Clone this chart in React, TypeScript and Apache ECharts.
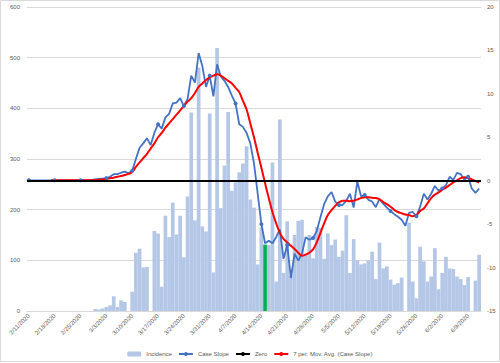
import React, { useEffect, useRef } from "react";
import * as echarts from "echarts";

const categories = [
  "2/11/2020","2/12/2020","2/13/2020","2/14/2020","2/15/2020","2/16/2020","2/17/2020","2/18/2020","2/19/2020","2/20/2020",
  "2/21/2020","2/22/2020","2/23/2020","2/24/2020","2/25/2020","2/26/2020","2/27/2020","2/28/2020","2/29/2020",
  "3/1/2020","3/2/2020","3/3/2020","3/4/2020","3/5/2020","3/6/2020","3/7/2020","3/8/2020","3/9/2020","3/10/2020",
  "3/11/2020","3/12/2020","3/13/2020","3/14/2020","3/15/2020","3/16/2020","3/17/2020","3/18/2020","3/19/2020","3/20/2020",
  "3/21/2020","3/22/2020","3/23/2020","3/24/2020","3/25/2020","3/26/2020","3/27/2020","3/28/2020","3/29/2020","3/30/2020","3/31/2020",
  "4/1/2020","4/2/2020","4/3/2020","4/4/2020","4/5/2020","4/6/2020","4/7/2020","4/8/2020","4/9/2020","4/10/2020",
  "4/11/2020","4/12/2020","4/13/2020","4/14/2020","4/15/2020","4/16/2020","4/17/2020","4/18/2020","4/19/2020","4/20/2020",
  "4/21/2020","4/22/2020","4/23/2020","4/24/2020","4/25/2020","4/26/2020","4/27/2020","4/28/2020","4/29/2020","4/30/2020",
  "5/1/2020","5/2/2020","5/3/2020","5/4/2020","5/5/2020","5/6/2020","5/7/2020","5/8/2020","5/9/2020","5/10/2020",
  "5/11/2020","5/12/2020","5/13/2020","5/14/2020","5/15/2020","5/16/2020","5/17/2020","5/18/2020","5/19/2020","5/20/2020",
  "5/21/2020","5/22/2020","5/23/2020","5/24/2020","5/25/2020","5/26/2020","5/27/2020","5/28/2020","5/29/2020","5/30/2020","5/31/2020",
  "6/1/2020","6/2/2020","6/3/2020","6/4/2020","6/5/2020","6/6/2020","6/7/2020","6/8/2020","6/9/2020","6/10/2020","6/11/2020","6/12/2020",
];

const incidence = [
  0, 0, 0, 0, 0, 0, 0, 0, 0, 0, 0, 0, 0, 0, 0, 0, 0, 0,
  4, 3, 5, 8, 11, 29, 8, 21, 18, 0, 38, 115,
  123, 86, 87, 0, 158, 153, 48, 188, 146, 214, 151, 188,
  106, 226, 392, 179, 480, 167, 157, 390, 76, 519, 203, 287,
  393, 237, 254, 274, 291, 325, 220, 204, 92, 165, 131, 130,
  293, 58, 378, 75, 177, 70, 150, 178, 180, 110, 150, 104,
  166, 164, 103, 153, 130, 141, 107, 119, 189, 75, 142, 100,
  92, 94, 100, 117, 63, 135, 84, 88, 62, 52, 55, 66,
  0, 174, 58, 25, 127, 98, 58, 68, 124, 43, 75, 107,
  84, 83, 68, 63, 51, 67, 0, 60, 111,
];

const highlightDate = "4/15/2020";

const caseSlope = [
  0.05, 0.05, 0.05, 0.05, 0.05, 0.05, 0.05, 0.05, 0.05, 0.05, 0.05, 0.05, 0.05, 0.05, 0.05, 0.05, 0.05,
  0.1, 0.15, 0.2, 0.25, 0.3, 0.45, 0.75, 0.75, 0.92, 1.05, 0.85, 1.15, 2.5,
  3.8, 4.3, 4.9, 4.1, 5.5, 6.5, 6.0, 7.3, 7.7, 8.9, 9.0, 9.5,
  8.6, 9.4, 12.1, 11.3, 14.7, 13.2, 10.8, 12.1, 9.7, 13.4, 12.0, 11.5,
  10.8, 9.8, 8.9, 6.5, 6.2, 5.5, 4.3, 2.0, -1.5, -5.0, -7.2, -6.9,
  -7.2, -6.5, -5.6, -9.0, -7.4, -11.2, -8.4, -9.2, -8.4, -6.5, -6.8, -6.6,
  -5.8, -4.2, -2.7, -1.8, -1.3, -2.4, -2.8, -2.8, -2.3, -1.5, -3.1, -0.1,
  -1.8, -1.65, -2.2, -2.4, -3.05, -2.1, -2.65, -3.1, -3.5, -3.85, -4.15, -4.5,
  -5.2, -3.7, -3.6, -4.1, -3.0, -1.5, -2.15, -1.5, -0.6, -1.15, -0.9, -0.5,
  0.45, 0.1, 0.9, 0.75, 0.1, 0.45, -0.9, -1.4, -0.9,
];

const movingAvg = [
  null, null, null, null, null, null,
  0.05, 0.05, 0.05, 0.05, 0.05, 0.05, 0.05, 0.05, 0.05, 0.05, 0.05,
  0.05, 0.07, 0.1, 0.15, 0.2, 0.28, 0.35, 0.45, 0.55, 0.65, 0.78, 1.0, 1.6,
  2.1, 2.6, 3.1, 3.7, 4.3, 5.0, 5.5, 6.1, 6.6, 7.1, 7.6, 8.1,
  8.6, 9.1, 9.5, 10.1, 10.8, 11.2, 11.6, 11.9, 12.1, 12.25, 12.1, 11.8,
  11.5, 11.2, 10.7, 10.2, 9.2, 8.2, 6.6, 5.0, 3.2, 1.5, -0.3, -2.0,
  -3.6, -4.9, -6.0, -6.7, -7.1, -7.5, -7.85, -8.3, -8.65, -8.5, -8.3, -7.9,
  -7.1, -6.0, -4.9, -3.95, -3.4, -2.9, -2.5, -2.3, -2.3, -2.35, -2.3, -2.15,
  -2.0, -1.9, -1.9, -1.97, -2.0, -2.15, -2.45, -2.7, -3.0, -3.35, -3.6, -3.75,
  -3.9, -3.95, -4.1, -3.95, -3.5, -3.2, -2.6, -2.0, -1.6, -1.35, -1.05, -0.8,
  -0.5, -0.2, 0.05, 0.3, 0.4, 0.35, 0.15, -0.05, -0.2,
];

const leftTicks = { min: 0, max: 600, interval: 100 };
const rightTicks = { min: -15, max: 20, interval: 5 };
const zeroLevel = 0;

const seriesNames = ["Incidence", "Case Slope", "Zero", "7 per. Mov. Avg. (Case Slope)"];

const FONT = "'Liberation Sans', Arial, sans-serif";
const LABEL_COLOR = "#595959";

export default function App() {
  const ref = useRef<HTMLDivElement>(null);

  useEffect(() => {
    if (!ref.current) return;
    const chart = echarts.init(ref.current, undefined, { renderer: "svg" });
    const hi = categories.indexOf(highlightDate);
    const barData = incidence.map((v, i) =>
      i === hi ? { value: v, itemStyle: { color: "#00B050" } } : v
    );
    chart.setOption({
      animation: false,
      backgroundColor: "#ffffff",
      textStyle: { fontFamily: FONT },
      graphic: [
        {
          type: "rect",
          shape: { x: 0.5, y: 0.5, width: 499, height: 361 },
          style: { fill: "none", stroke: "#D9D9D9", lineWidth: 1 },
          silent: true,
        },
      ],
      grid: {
        left: 27,
        right: 19,
        top: 7,
        bottom: 52,
        containLabel: false,
        outerBoundsMode: "none",
      },
      legend: {
        data: seriesNames,
        top: 346,
        left: "center",
        itemWidth: 14,
        itemHeight: 5,
        itemGap: 6,
        textStyle: { fontSize: 6, color: LABEL_COLOR, fontFamily: FONT },
      },
      xAxis: {
        type: "category",
        data: categories,
        boundaryGap: true,
        axisTick: { show: false },
        axisLine: { show: true, lineStyle: { color: "#D9D9D9", width: 1 } },
        axisLabel: {
          interval: 6,
          rotate: 45,
          fontSize: 6,
          margin: 4,
          color: LABEL_COLOR,
          fontFamily: FONT,
        },
        splitLine: { show: false },
      },
      yAxis: [
        {
          type: "value",
          min: leftTicks.min,
          max: leftTicks.max,
          interval: leftTicks.interval,
          axisLine: { show: false },
          axisTick: { show: false },
          axisLabel: { fontSize: 6, color: LABEL_COLOR, margin: 7, fontFamily: FONT },
          splitLine: { show: true, lineStyle: { color: "#D9D9D9", width: 1 } },
        },
        {
          type: "value",
          position: "right",
          min: rightTicks.min,
          max: rightTicks.max,
          interval: rightTicks.interval,
          axisLine: { show: false },
          axisTick: { show: false },
          axisLabel: { fontSize: 6, color: LABEL_COLOR, margin: 6, fontFamily: FONT },
          splitLine: { show: false },
        },
      ],
      series: [
        {
          name: seriesNames[0],
          type: "bar",
          yAxisIndex: 0,
          data: barData,
          barCategoryGap: "0%",
          itemStyle: { color: "#B4C7E7" },
        },
        {
          name: seriesNames[1],
          type: "line",
          yAxisIndex: 1,
          data: caseSlope,
          symbol: "circle",
          symbolSize: 4,
          showSymbol: true,
          itemStyle: { color: "#4472C4" },
          lineStyle: { color: "#4472C4", width: 1.8 },
        },
        {
          name: seriesNames[2],
          type: "line",
          yAxisIndex: 1,
          data: [],
          symbol: "none",
          itemStyle: { color: "#000000" },
          lineStyle: { color: "#000000", width: 2 },
          markLine: {
            silent: true,
            symbol: "none",
            label: { show: false },
            lineStyle: { color: "#000000", width: 2, type: "solid" },
            data: [{ yAxis: zeroLevel }],
          },
        },
        {
          name: seriesNames[3],
          type: "line",
          yAxisIndex: 1,
          data: movingAvg,
          symbol: "none",
          smooth: 0.3,
          itemStyle: { color: "#FF0000" },
          lineStyle: { color: "#FF0000", width: 2 },
        },
      ],
    });
    return () => chart.dispose();
  }, []);

  return (
    <div
      ref={ref}
      style={{ position: "absolute", left: 0, top: 0, width: 500, height: 363 }}
    />
  );
}
